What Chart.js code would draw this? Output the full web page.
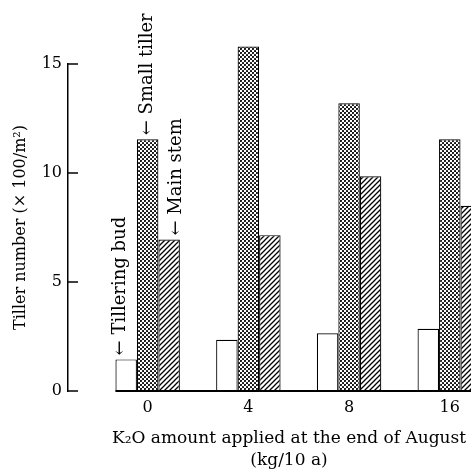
<!DOCTYPE html>
<html>
<head>
<meta charset="utf-8">
<script src="https://cdn.jsdelivr.net/npm/chart.js"></script>
<style>
  html, body { margin: 0; padding: 0; overflow: hidden; background: #fff; }
  #wrap { width: 510px; height: 473px; }
</style>
</head>
<body>
<div id="wrap"><canvas id="mychart"></canvas></div>
<script>
// K2O applied at end of August (kg/10 a)
const categories = ['0', '4', '8', '16'];
const seriesNames = ['Tillering bud', 'Small tiller', 'Main stem'];
const budValues = [1.45, 2.35, 2.65, 2.85];
const smallValues = [11.55, 15.8, 13.2, 11.55];
const mainValues = [6.95, 7.15, 9.85, 8.5];
const yTicks = [0, 5, 10, 15];

const serif = '"DejaVu Serif", "Liberation Serif", serif';

// fill patterns
const makePattern = (size, paint) => {
    const c = document.createElement('canvas');
    c.width = size; c.height = size;
    const g = c.getContext('2d');
    g.fillStyle = '#fff';
    g.fillRect(0, 0, size, size);
    paint(g, size);
    return g.createPattern(c, 'repeat');
};

const dots = makePattern(4, (g) => {
    g.fillStyle = '#000';
    g.beginPath(); g.arc(1, 1, 1.05, 0, Math.PI * 2); g.fill();
    g.beginPath(); g.arc(3, 3, 1.05, 0, Math.PI * 2); g.fill();
});

const hatch = makePattern(5, (g, s) => {
    g.strokeStyle = '#000';
    g.lineWidth = 1.3;
    g.beginPath();
    g.moveTo(-1, s + 1); g.lineTo(s + 1, -1);
    g.moveTo(-1, 1); g.lineTo(1, -1);
    g.moveTo(s - 1, s + 1); g.lineTo(s + 1, s - 1);
    g.stroke();
});

const toPoints = (arr) => arr.map((v, i) => ({ x: i, y: v }));

// inward y ticks and the bottom line
const axisMarks = {
    id: 'axisMarks',
    afterDraw(chart) {
        const { ctx, chartArea, scales: { y } } = chart;
        ctx.save();
        ctx.strokeStyle = '#000';
        ctx.lineWidth = 1.5;
        y.ticks.forEach(t => {
            const py = y.getPixelForValue(t.value);
            ctx.beginPath();
            ctx.moveTo(chartArea.left, py);
            ctx.lineTo(chartArea.left + 10, py);
            ctx.stroke();
        });
        const first = chart.getDatasetMeta(0).data[0];
        const py0 = y.getPixelForValue(0);
        ctx.lineWidth = 2;
        ctx.beginPath();
        ctx.moveTo(first.x - first.width / 2, py0);
        ctx.lineTo(chartArea.right, py0);
        ctx.stroke();
        ctx.restore();
    }
};

// rotated arrow labels over the first group
const arrowLabels = {
    id: 'arrowLabels',
    afterDatasetsDraw(chart) {
        const ctx = chart.ctx;
        const shift = [-6, 0, 7];
        ctx.save();
        ctx.font = '18px ' + serif;
        ctx.fillStyle = '#000';
        ctx.textAlign = 'left';
        ctx.textBaseline = 'middle';
        seriesNames.forEach((name, i) => {
            const bar = chart.getDatasetMeta(i).data[0];
            ctx.save();
            ctx.translate(bar.x + shift[i], bar.y - 4);
            ctx.rotate(-Math.PI / 2);
            ctx.fillText('\u2190 ' + name, 0, 0);
            ctx.restore();
        });
        ctx.restore();
    }
};

const barStyle = {
    borderColor: '#000',
    borderWidth: 1.2,
    categoryPercentage: 0.64,
    barPercentage: 1.0,
    clip: false
};

const ctx = document.getElementById('mychart').getContext('2d');
let mychart = new Chart(ctx, {
    type: 'bar',
    data: {
        datasets: [
            { label: seriesNames[0], data: toPoints(budValues), backgroundColor: '#fff', ...barStyle },
            { label: seriesNames[1], data: toPoints(smallValues), backgroundColor: dots, ...barStyle },
            { label: seriesNames[2], data: toPoints(mainValues), backgroundColor: hatch, ...barStyle }
        ]
    },
    options: {
        responsive: true,
        maintainAspectRatio: false,
        animation: false,
        layout: { padding: { top: 64, left: 0, right: 0, bottom: 0 } },
        plugins: {
            legend: { display: false },
            tooltip: { enabled: false }
        },
        scales: {
            x: {
                type: 'linear',
                offset: false,
                min: -0.791,
                max: 3.598,
                afterBuildTicks: (scale) => {
                    scale.ticks = categories.map((c, i) => ({ value: i }));
                },
                afterFit: (scale) => { scale.height = 82; },
                grid: { display: false, drawTicks: false },
                border: { display: false },
                ticks: {
                    autoSkip: false,
                    maxRotation: 0,
                    padding: 7,
                    color: '#000',
                    font: { family: serif, size: 16 },
                    callback: (v) => categories[v]
                },
                title: {
                    display: true,
                    text: ['K\u2082O amount applied at the end of August', '(kg/10 a)'],
                    color: '#000',
                    font: { family: serif, size: 17, lineHeight: 1.3 },
                    padding: { top: 0, bottom: 1 }
                }
            },
            y: {
                min: 0,
                max: 15,
                afterBuildTicks: (scale) => {
                    scale.ticks = yTicks.map(v => ({ value: v }));
                },
                afterFit: (scale) => { scale.width = 68; },
                grid: { display: false, drawTicks: false },
                border: { display: true, color: '#000', width: 1.5 },
                ticks: {
                    padding: 6,
                    color: '#000',
                    font: { family: serif, size: 16 }
                },
                title: {
                    display: true,
                    text: 'Tiller number (\u00d7 100/m\u00b2)',
                    color: '#000',
                    font: { family: serif, size: 16, lineHeight: 1.2 },
                    padding: { top: 11, bottom: 0 }
                }
            }
        }
    },
    plugins: [arrowLabels, axisMarks]
});
</script>
</body>
</html>
